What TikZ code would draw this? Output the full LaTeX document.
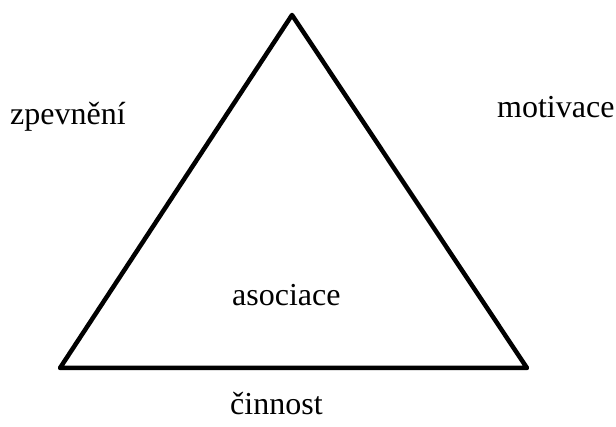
\documentclass[tikz,border=0pt]{standalone}
\usepackage{fontspec}
\setmainfont{Liberation Serif}
\usetikzlibrary{positioning}

\begin{document}
\begin{tikzpicture}[
  x=1pt, y=-1pt,
  font=\fontsize{32}{38}\selectfont,
  side/.style={line width=4.5pt, line join=round, line cap=round},
  lbl/.style={inner sep=0pt, anchor=base west}
]
\useasboundingbox (0,0) rectangle (616,427);

%% ---- TROJÚHELNÍK ----
\coordinate (top)   at (292,15);
\coordinate (left)  at ( 60,368);
\coordinate (right) at (527,368);

\draw[side] (top) -- (left) -- (right) -- cycle;

%% ---- POPISKY ----
\node[lbl] (zpev)  at ( 10,125) {zpevnění};
\node[lbl] (motiv) at (497,118) {motivace};
\node[lbl] (asoc)  at (232,306) {asociace};
\node[lbl] (cinn)  at (230,415) {činnost};

\end{tikzpicture}
\end{document}
